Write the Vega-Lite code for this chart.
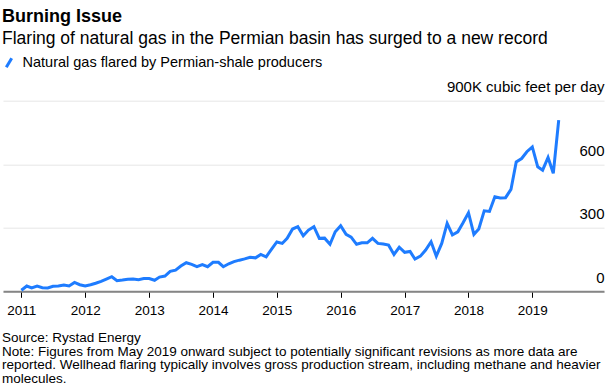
{
  "$schema": "https://vega.github.io/schema/vega-lite/v6.json",
  "autosize": "none",
  "width": 601,
  "height": 190.6,
  "padding": {"left": 3, "top": 100.7, "right": 9, "bottom": 96.7},
  "background": "white",
  "title": {
    "text": "Burning Issue",
    "subtitle": "Flaring of natural gas in the Permian basin has surged to a new record",
    "orient": "top",
    "anchor": "start",
    "frame": "group",
    "fontSize": 18,
    "fontWeight": "bold",
    "color": "#000000",
    "subtitleFontSize": 17.5,
    "subtitleColor": "#000000",
    "subtitlePadding": 3.5,
    "offset": 8,
    "dx": -1
  },
  "data": {
    "values": [
      {"date": "2011-01-01", "value": 5}, {"date": "2011-02-01", "value": 25}, {"date": "2011-03-01", "value": 16}, {"date": "2011-04-01", "value": 25},
      {"date": "2011-05-01", "value": 17}, {"date": "2011-06-01", "value": 16}, {"date": "2011-07-01", "value": 24}, {"date": "2011-08-01", "value": 25},
      {"date": "2011-09-01", "value": 30}, {"date": "2011-10-01", "value": 25}, {"date": "2011-11-01", "value": 42}, {"date": "2011-12-01", "value": 31},
      {"date": "2012-01-01", "value": 25}, {"date": "2012-02-01", "value": 31}, {"date": "2012-03-01", "value": 38}, {"date": "2012-04-01", "value": 47},
      {"date": "2012-05-01", "value": 58}, {"date": "2012-06-01", "value": 69}, {"date": "2012-07-01", "value": 50}, {"date": "2012-08-01", "value": 53},
      {"date": "2012-09-01", "value": 57}, {"date": "2012-10-01", "value": 58}, {"date": "2012-11-01", "value": 55}, {"date": "2012-12-01", "value": 60},
      {"date": "2013-01-01", "value": 60}, {"date": "2013-02-01", "value": 52}, {"date": "2013-03-01", "value": 67}, {"date": "2013-04-01", "value": 72},
      {"date": "2013-05-01", "value": 94}, {"date": "2013-06-01", "value": 100}, {"date": "2013-07-01", "value": 119}, {"date": "2013-08-01", "value": 135},
      {"date": "2013-09-01", "value": 127}, {"date": "2013-10-01", "value": 116}, {"date": "2013-11-01", "value": 126}, {"date": "2013-12-01", "value": 116},
      {"date": "2014-01-01", "value": 137}, {"date": "2014-02-01", "value": 137}, {"date": "2014-03-01", "value": 116}, {"date": "2014-04-01", "value": 130},
      {"date": "2014-05-01", "value": 140}, {"date": "2014-06-01", "value": 147}, {"date": "2014-07-01", "value": 153}, {"date": "2014-08-01", "value": 161},
      {"date": "2014-09-01", "value": 158}, {"date": "2014-10-01", "value": 174}, {"date": "2014-11-01", "value": 163}, {"date": "2014-12-01", "value": 198},
      {"date": "2015-01-01", "value": 233}, {"date": "2015-02-01", "value": 226}, {"date": "2015-03-01", "value": 250}, {"date": "2015-04-01", "value": 294},
      {"date": "2015-05-01", "value": 305}, {"date": "2015-06-01", "value": 262}, {"date": "2015-07-01", "value": 289}, {"date": "2015-08-01", "value": 305},
      {"date": "2015-09-01", "value": 250}, {"date": "2015-10-01", "value": 251}, {"date": "2015-11-01", "value": 222}, {"date": "2015-12-01", "value": 281},
      {"date": "2016-01-01", "value": 310}, {"date": "2016-02-01", "value": 269}, {"date": "2016-03-01", "value": 256}, {"date": "2016-04-01", "value": 222},
      {"date": "2016-05-01", "value": 229}, {"date": "2016-06-01", "value": 229}, {"date": "2016-07-01", "value": 250}, {"date": "2016-08-01", "value": 226},
      {"date": "2016-09-01", "value": 223}, {"date": "2016-10-01", "value": 218}, {"date": "2016-11-01", "value": 174}, {"date": "2016-12-01", "value": 208},
      {"date": "2017-01-01", "value": 184}, {"date": "2017-02-01", "value": 188}, {"date": "2017-03-01", "value": 152}, {"date": "2017-04-01", "value": 166},
      {"date": "2017-05-01", "value": 195}, {"date": "2017-06-01", "value": 234}, {"date": "2017-07-01", "value": 166}, {"date": "2017-08-01", "value": 226},
      {"date": "2017-09-01", "value": 321}, {"date": "2017-10-01", "value": 266}, {"date": "2017-11-01", "value": 281}, {"date": "2017-12-01", "value": 324},
      {"date": "2018-01-01", "value": 371}, {"date": "2018-02-01", "value": 269}, {"date": "2018-03-01", "value": 294}, {"date": "2018-04-01", "value": 380},
      {"date": "2018-05-01", "value": 377}, {"date": "2018-06-01", "value": 446}, {"date": "2018-07-01", "value": 441}, {"date": "2018-08-01", "value": 442},
      {"date": "2018-09-01", "value": 481}, {"date": "2018-10-01", "value": 611}, {"date": "2018-11-01", "value": 627}, {"date": "2018-12-01", "value": 659},
      {"date": "2019-01-01", "value": 682}, {"date": "2019-02-01", "value": 588}, {"date": "2019-03-01", "value": 572}, {"date": "2019-04-01", "value": 632},
      {"date": "2019-05-01", "value": 557}, {"date": "2019-06-01", "value": 808}
    ]
  },
  "mark": {"type": "line", "strokeWidth": 3, "strokeJoin": "miter", "clip": false},
  "encoding": {
    "x": {
      "field": "date",
      "type": "temporal",
      "scale": {"type": "utc", "domain": [{"year": 2010, "month": 9, "date": 18, "utc": true}, {"year": 2020, "month": 2, "date": 15, "utc": true}]},
      "axis": {
        "values": [
          {"year": 2011, "month": 1, "date": 1, "utc": true}, {"year": 2012, "month": 1, "date": 1, "utc": true},
          {"year": 2013, "month": 1, "date": 1, "utc": true}, {"year": 2014, "month": 1, "date": 1, "utc": true},
          {"year": 2015, "month": 1, "date": 1, "utc": true}, {"year": 2016, "month": 1, "date": 1, "utc": true},
          {"year": 2017, "month": 1, "date": 1, "utc": true}, {"year": 2018, "month": 1, "date": 1, "utc": true},
          {"year": 2019, "month": 1, "date": 1, "utc": true}
        ],
        "format": "%Y",
        "formatType": "utc",
        "grid": false,
        "domainColor": "#858585",
        "domainWidth": 2,
        "tickColor": "#000000",
        "tickSize": 6,
        "tickWidth": 1,
        "labelFontSize": 13.5,
        "labelColor": "#000000",
        "labelPadding": 6,
        "labelFlush": false,
        "labelOverlap": false,
        "title": [
          "Source: Rystad Energy",
          "Note: Figures from May 2019 onward subject to potentially significant revisions as more data are",
          "reported. Wellhead flaring typically involves gross production stream, including methane and heavier",
          "molecules."
        ],
        "titleFontSize": 13.5,
        "titleFontWeight": "normal",
        "titleColor": "#000000",
        "titleAlign": "left",
        "titleAnchor": "start",
        "titleBaseline": "alphabetic",
        "titleX": -1.5,
        "titleY": 50.4,
        "titleLineHeight": 13.6,
        "titleLimit": 700
      }
    },
    "y": {
      "field": "value",
      "type": "quantitative",
      "scale": {"domain": [0, 900], "nice": false, "zero": true},
      "axis": {
        "orient": "right",
        "values": [0, 300, 600, 900],
        "labelExpr": "datum.value == 900 ? '900K cubic feet per day' : datum.label",
        "domain": false,
        "ticks": false,
        "tickSize": 0,
        "grid": true,
        "gridColor": "#e6e6e6",
        "gridWidth": 1,
        "labelAlign": "right",
        "labelBaseline": "alphabetic",
        "labelOffset": -9,
        "labelPadding": 0,
        "labelFontSize": 15,
        "labelColor": "#000000",
        "labelLimit": 300,
        "title": null
      }
    },
    "color": {
      "datum": "Natural gas flared by Permian-shale producers",
      "type": "nominal",
      "scale": {"range": ["#1e7cff"]},
      "legend": {
        "title": null,
        "orient": "none",
        "legendX": -1.5,
        "legendY": -45.5,
        "symbolType": "M-0.45,0.75L0.45,-0.75",
        "symbolSize": 144,
        "symbolStrokeWidth": 3,
        "labelFontSize": 14.5,
        "labelColor": "#000000",
        "labelOffset": 6,
        "labelLimit": 500,
        "padding": 0
      }
    }
  },
  "config": {
    "font": "Liberation Sans",
    "view": {"stroke": null}
  }
}
